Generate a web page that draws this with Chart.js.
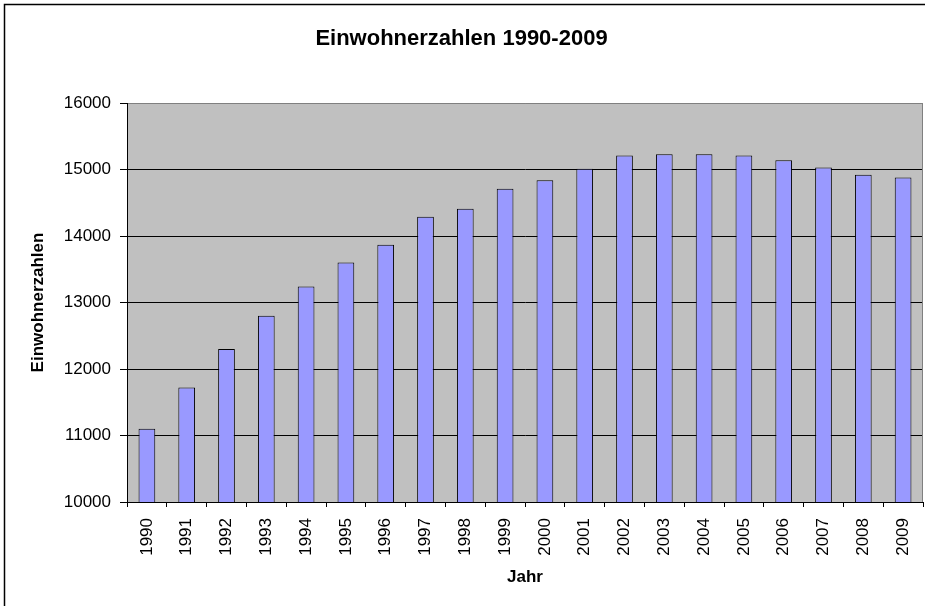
<!DOCTYPE html>
<html>
<head>
<meta charset="utf-8">
<script src="https://cdn.jsdelivr.net/npm/chart.js@4/dist/chart.umd.min.js"></script>
<style>
  html, body { margin: 0; padding: 0; background: #fff; }
  #wrap { position: relative; width: 925px; height: 606px; }
</style>
</head>
<body>
<div id="wrap"><canvas id="c" width="925" height="606"></canvas></div>
<script>
const chartTitle = 'Einwohnerzahlen 1990-2009';
const xTitle = 'Jahr';
const yTitle = 'Einwohnerzahlen';
const years = ['1990','1991','1992','1993','1994','1995','1996','1997','1998','1999',
               '2000','2001','2002','2003','2004','2005','2006','2007','2008','2009'];
const population = [11100, 11720, 12300, 12800, 13240, 13600, 13870, 14290, 14410, 14710,
                    14840, 15010, 15210, 15230, 15230, 15210, 15140, 15030, 14920, 14880];
const yMin = 10000;
const yMax = 16000;
const yStep = 1000;

const FONT = 'Arial, "Liberation Sans", sans-serif';

const decor = {
  id: 'decor',
  beforeDraw(chart) {
    const { ctx, chartArea: a } = chart;
    ctx.save();
    ctx.fillStyle = '#ffffff';
    ctx.fillRect(0, 0, chart.width, chart.height);
    ctx.strokeStyle = '#000';
    ctx.lineWidth = 1.5;
    ctx.strokeRect(4.5, 4.5, chart.width + 20, chart.height + 20);
    ctx.fillStyle = '#C0C0C0';
    ctx.fillRect(a.left, a.top, a.right - a.left, a.bottom - a.top);
    ctx.restore();
  },
  afterDraw(chart) {
    const { ctx, chartArea: a } = chart;
    ctx.save();
    ctx.strokeStyle = '#808080';
    ctx.lineWidth = 1;
    ctx.beginPath();
    ctx.moveTo(a.left + 1, a.top + 0.5);
    ctx.lineTo(a.right - 0.5, a.top + 0.5);
    ctx.lineTo(a.right - 0.5, a.bottom);
    ctx.stroke();
    ctx.restore();
  }
};

new Chart(document.getElementById('c'), {
  type: 'bar',
  data: {
    labels: years,
    datasets: [{
      data: population,
      backgroundColor: '#9999FF',
      borderColor: '#000000',
      borderWidth: 1,
      barPercentage: 0.42,
      categoryPercentage: 1.0
    }]
  },
  options: {
    responsive: false,
    devicePixelRatio: 1,
    animation: false,
    layout: { padding: { left: 0, right: 2, top: 0, bottom: 0 } },
    plugins: {
      legend: { display: false },
      tooltip: { enabled: false },
      title: {
        display: true,
        text: chartTitle,
        color: '#000',
        font: { family: FONT, size: 22, weight: 'bold', lineHeight: 1.2 },
        padding: { top: 26, bottom: 50.6 }
      }
    },
    scales: {
      x: {
        offset: true,
        grid: {
          display: true,
          offset: true,
          drawOnChartArea: false,
          drawTicks: true,
          tickLength: 5,
          color: '#000',
          tickColor: '#000'
        },
        border: { display: true, color: '#000', width: 1 },
        ticks: {
          color: '#000',
          font: { family: FONT, size: 17 },
          minRotation: 90,
          maxRotation: 90,
          autoSkip: false,
          padding: 11
        },
        title: {
          display: true,
          text: xTitle,
          color: '#000',
          font: { family: FONT, size: 17, weight: 'bold', lineHeight: 1.2 },
          padding: { top: 4, bottom: 18 }
        },
        afterFit(scale) {
          scale.height = 104;
          scale.paddingLeft = 0;
          scale.paddingRight = 0;
        }
      },
      y: {
        min: yMin,
        max: yMax,
        grid: {
          color: (c) => (c.tick && c.tick.value === yMax) ? '#808080' : '#000',
          tickColor: '#000',
          tickLength: 7,
          lineWidth: 1
        },
        border: { display: true, color: '#000', width: 1 },
        ticks: {
          stepSize: yStep,
          color: '#000',
          font: { family: FONT, size: 17 },
          padding: 9,
          callback: (v) => String(v)
        },
        title: {
          display: true,
          text: yTitle,
          color: '#000',
          font: { family: FONT, size: 17, weight: 'bold', lineHeight: 1.2 },
          padding: { top: 28, bottom: 4 }
        },
        afterFit(scale) {
          scale.width = 127;
          scale.paddingTop = 0;
          scale.paddingBottom = 0;
        }
      }
    }
  },
  plugins: [decor]
});
</script>
</body>
</html>
